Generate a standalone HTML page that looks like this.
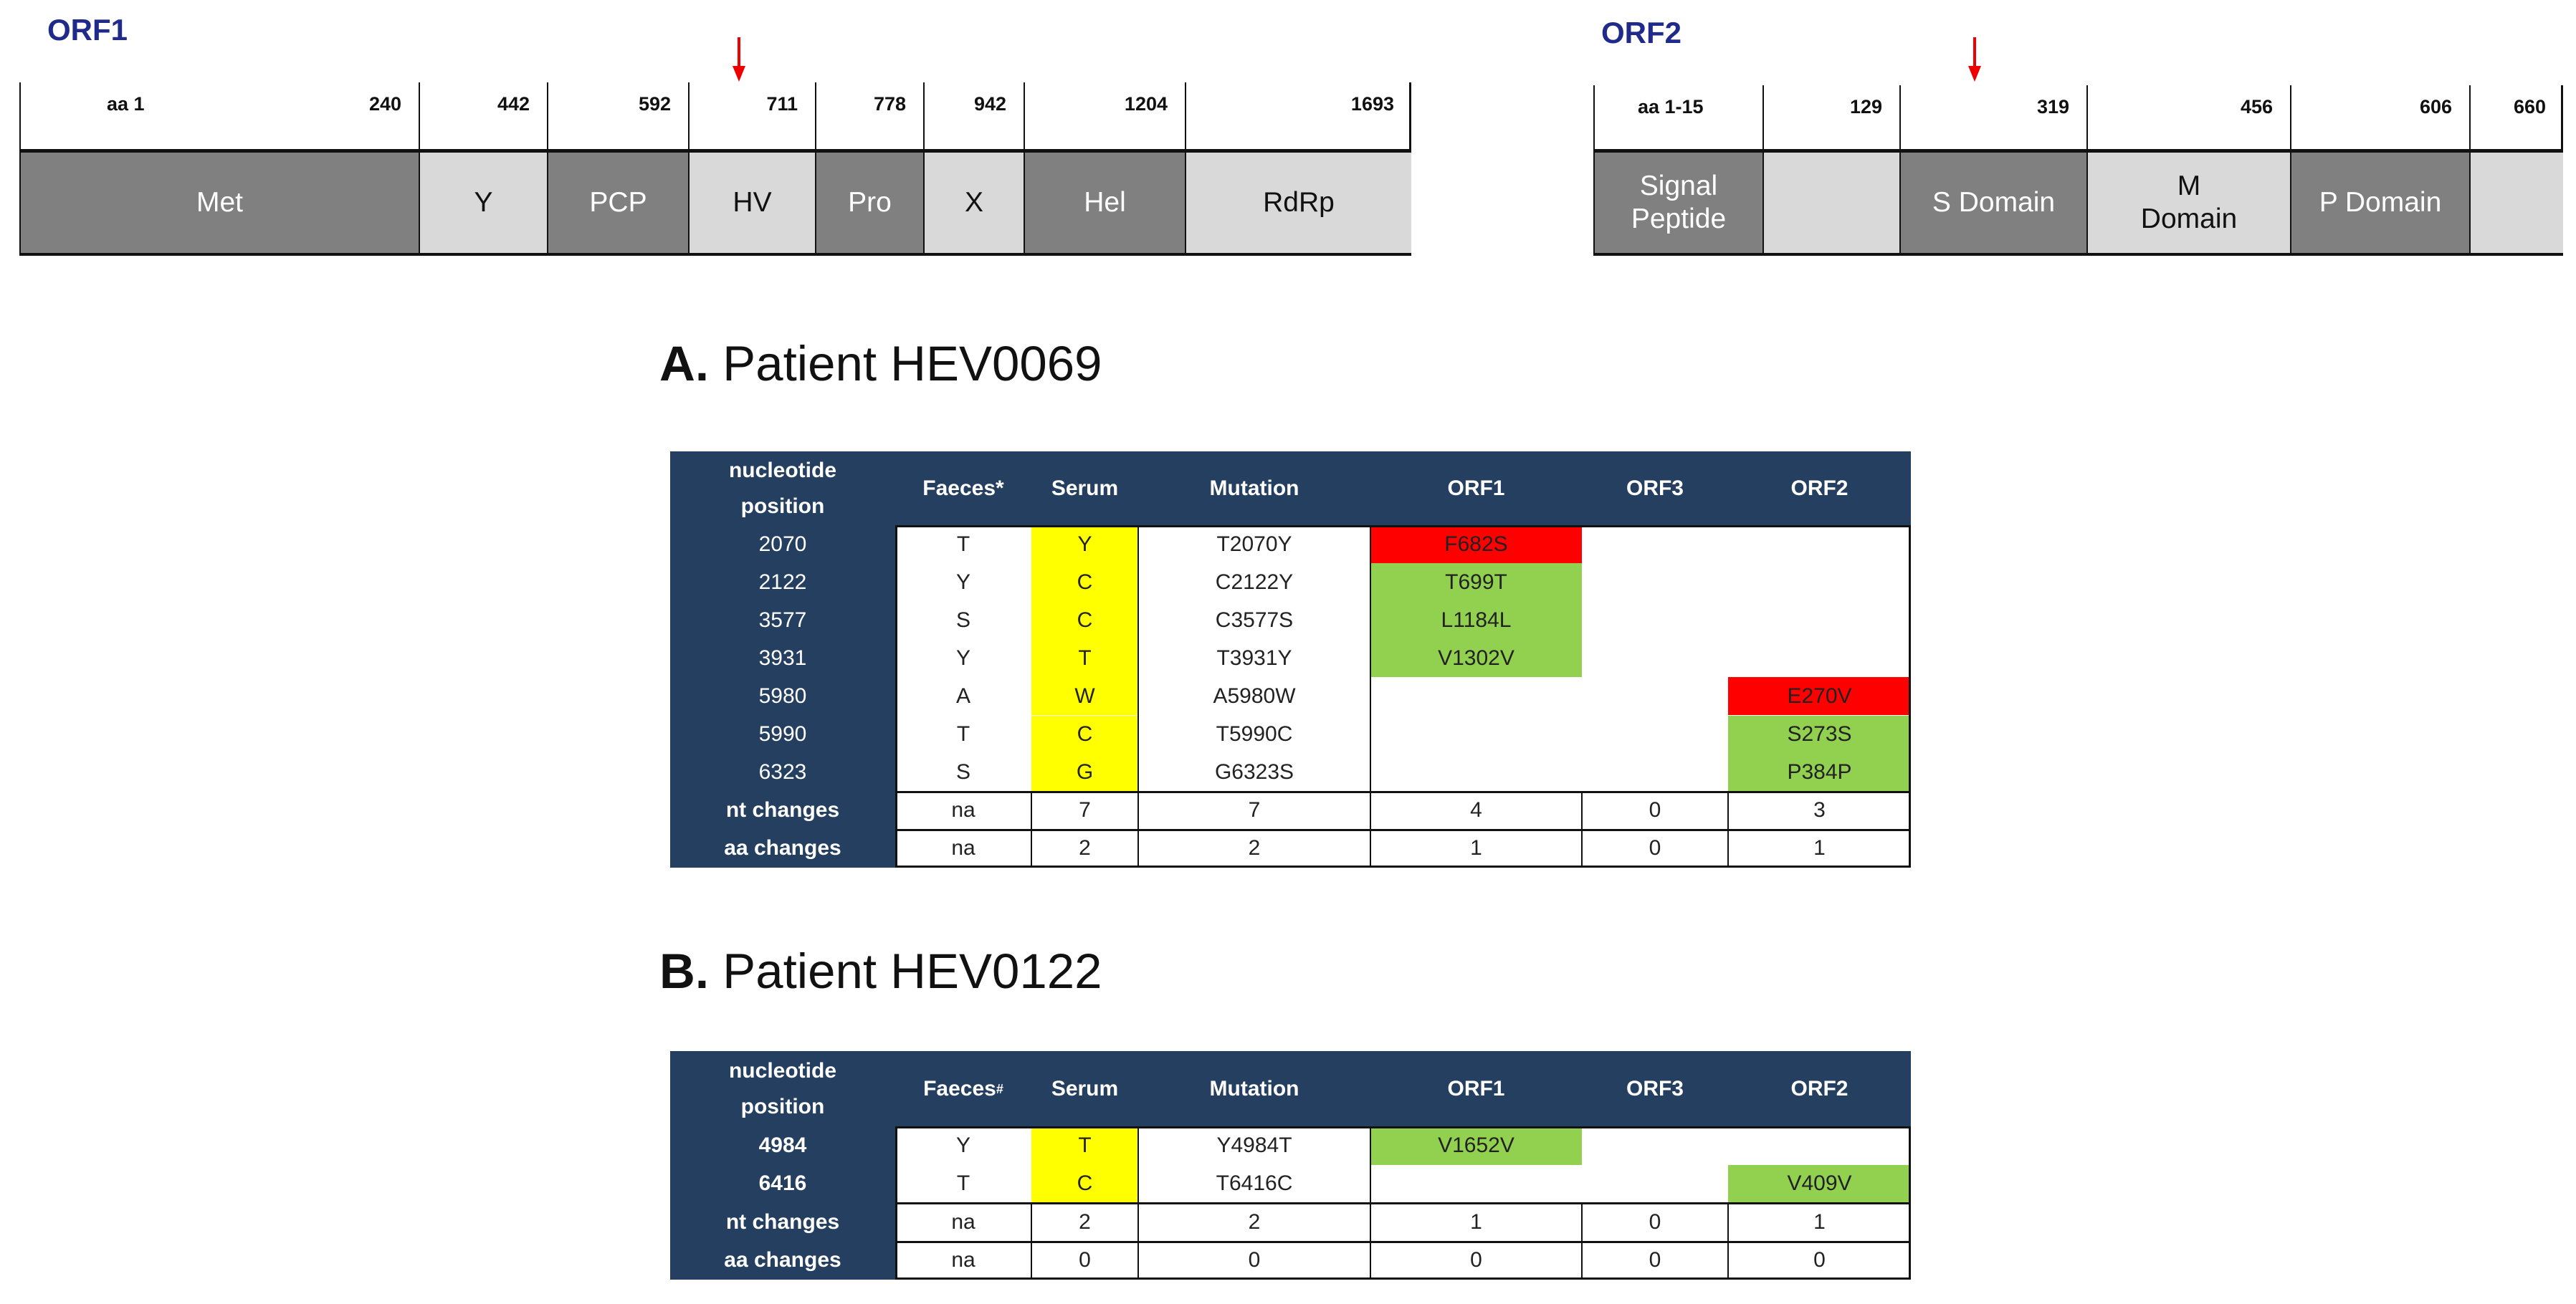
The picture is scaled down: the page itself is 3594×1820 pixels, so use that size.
<!DOCTYPE html>
<html><head><meta charset="utf-8">
<style>
html,body{margin:0;padding:0;background:#fff;}
body{width:3594px;height:1820px;position:relative;overflow:hidden;font-family:"Liberation Sans",sans-serif;}
.a{position:absolute;box-sizing:border-box;}
.t{position:absolute;white-space:nowrap;}
.lbl{color:#1f2a8a;font-weight:bold;font-size:42px;}
.num{font-weight:bold;font-size:27px;color:#111;}
.dom{display:flex;align-items:center;justify-content:center;text-align:center;font-size:39px;line-height:46px;border-left:2px solid #111;}
.dk{background:#808080;color:#fff;}
.lt{background:#d9d9d9;color:#111;}
.title{font-size:69px;color:#111;}
.cell{display:flex;align-items:center;justify-content:center;font-size:30px;color:#222;font-family:"Liberation Sans Narrow","Liberation Sans",sans-serif;}
.hd{color:#fff;font-weight:bold;font-size:30px;line-height:50px;text-align:center;font-family:"Liberation Sans Narrow","Liberation Sans",sans-serif;}
</style></head>
<body>
<div id="root"></div>
<script>
const orf1Bounds=[27,584,763,960,1137,1288,1428,1653,1969];
const orf1Nums=["240","442","592","711","778","942","1204","1693"];
const orf1Doms=["Met","Y","PCP","HV","Pro","X","Hel","RdRp"];
const orf1Dark=[1,0,1,0,1,0,1,0];
const orf2Bounds=[2223,2459,2650,2911,3195,3445,3576];
const orf2Nums=["","129","319","456","606","660"];
const orf2Doms=["Signal<br>Peptide","","S Domain","M<br>Domain","P Domain",""];
const orf2Dark=[1,0,1,0,1,0];
const cols=[935,1249,1439,1588,1912,2207,2411,2666];
const headers=["nucleotide<br>position","Faeces*","Serum","Mutation","ORF1","ORF3","ORF2"];
const headersB=["nucleotide<br>position","Faeces<sup style='font-size:18px'>#</sup>","Serum","Mutation","ORF1","ORF3","ORF2"];
const rowsA=[
["2070","T","Y","T2070Y","F682S","",""],
["2122","Y","C","C2122Y","T699T","",""],
["3577","S","C","C3577S","L1184L","",""],
["3931","Y","T","T3931Y","V1302V","",""],
["5980","A","W","A5980W","","","E270V"],
["5990","T","C","T5990C","","","S273S"],
["6323","S","G","G6323S","","","P384P"],
["nt changes","na","7","7","4","0","3"],
["aa changes","na","2","2","1","0","1"]];
const rowsB=[
["4984","Y","T","Y4984T","V1652V","",""],
["6416","T","C","T6416C","","","V409V"],
["nt changes","na","2","2","1","0","1"],
["aa changes","na","0","0","0","0","0"]];
const root=document.getElementById('root');
function mk(cls,x,y,w,h,html,name){
  const d=document.createElement('div');
  d.className=cls;
  d.style.left=x+'px';d.style.top=y+'px';
  if(w!=null)d.style.width=w+'px';
  if(h!=null)d.style.height=h+'px';
  if(html!=null)d.innerHTML=html;
  
  
  root.appendChild(d);return d;
}
mk('t lbl',66,18,null,null,'ORF1','orf1-label');
mk('t lbl',2234,22,null,null,'ORF2','orf2-label');
function arrow(x,name){
  mk('a',x-12,52,24,62,'<svg width="24" height="62"><line x1="12" y1="0" x2="12" y2="44" stroke="#e00" stroke-width="4"/><polygon points="3,40 21,40 12,62" fill="#e00"/></svg>',name);
}
arrow(1031,'orf1-arrow');arrow(2755,'orf2-arrow');
function genome(b,nums,doms,dark,top,prefix,first){
  const mid=211,bot=353;
  const fr=mk('a',b[0],top,b[b.length-1]-b[0],bot-top+4,null,prefix+'-frame');
  fr.style.borderLeft='2px solid #111';fr.style.borderRight='3px solid #111';fr.style.borderBottom='5px solid #111';
  const ml=mk('a',b[0],mid-3,b[b.length-1]-b[0],5,null,prefix+'-midline');ml.style.background='#111';
  for(let i=0;i<doms.length;i++){
    const x=b[i],w=b[i+1]-b[i];
    mk('a dom '+(dark[i]?'dk':'lt'),x,mid+2,w,bot-mid-2,doms[i],prefix+'-domain-'+i);
    const ln=mk('a',x,top,2,mid-top,null,prefix+'-divider-'+i);ln.style.background='#111';
    const n=mk('t num',x,top+15,w-24,null,nums[i],prefix+'-pos-'+i);n.style.textAlign='right';
  }
  mk('t num',b[0]+first[1],top+15,null,null,first[0],prefix+'-start');
}
genome(orf1Bounds,orf1Nums,orf1Doms,orf1Dark,115,'orf1',["aa 1",122]);
genome(orf2Bounds,orf2Nums,orf2Doms,orf2Dark,119,'orf2',["aa 1-15",62]);
mk('t title',920,468,null,null,'<b>A.</b> Patient HEV0069','title-a');
mk('t title',920,1316,null,null,'<b>B.</b> Patient HEV0122','title-b');
function table(rows,hdrs,top,hb,rh,prefix,boldLabels){
  const right=cols[cols.length-1],bottom=hb+rh*rows.length;
  const hdr=mk('a',cols[0],top,right-cols[0],hb-top,null,prefix+'-header');hdr.style.background='#243f60';
  const lc=mk('a',cols[0],top,cols[1]-cols[0],bottom-top,null,prefix+'-label-col');lc.style.background='#243f60';
  for(let c=0;c<hdrs.length;c++){
    const h=mk('a hd',cols[c],top,cols[c+1]-cols[c],hb-top,hdrs[c],prefix+'-header-'+c);
    h.style.display='flex';h.style.alignItems='center';h.style.justifyContent='center';
  }
  const nData=rows.length-2;
  for(let r=0;r<rows.length;r++){
    const y=hb+r*rh;
    for(let c=0;c<7;c++){
      const v=rows[r][c];
      const d=mk('a cell',cols[c],y,cols[c+1]-cols[c],rh,v,prefix+'-cell-'+r+'-'+c);
      if(c===0){d.style.color='#fff';if(r>=nData||boldLabels)d.style.fontWeight='bold';}
      if(r<nData){
        if(c===2)d.style.background='#ffff00';
        if((c===4||c===6)&&v){
          const syn=v[0]===v[v.length-1];
          d.style.background=syn?'#92d050':'#ff0000';
        }
      }
    }
  }
  const box=mk('a',cols[1],hb,right-cols[1],bottom-hb,null,prefix+'-border');box.style.border='3px solid #111';
  for(let r=nData;r<rows.length;r++){
    const l=mk('a',cols[1],hb+r*rh-1,right-cols[1],3,null,prefix+'-hline-'+r);l.style.background='#111';
  }
  for(let c=2;c<cols.length-1;c++){
    const inData=(c===3||c===4);
    const y0=inData?hb:hb+nData*rh;
    const l=mk('a',cols[c]-1,y0,2,bottom-y0,null,prefix+'-vline-'+c);l.style.background='#111';
  }
}
table(rowsA,headers,630,733,53.1,'table-a',false);
table(rowsB,headersB,1467,1572,53.5,'table-b',true);
</script>
</body></html>
